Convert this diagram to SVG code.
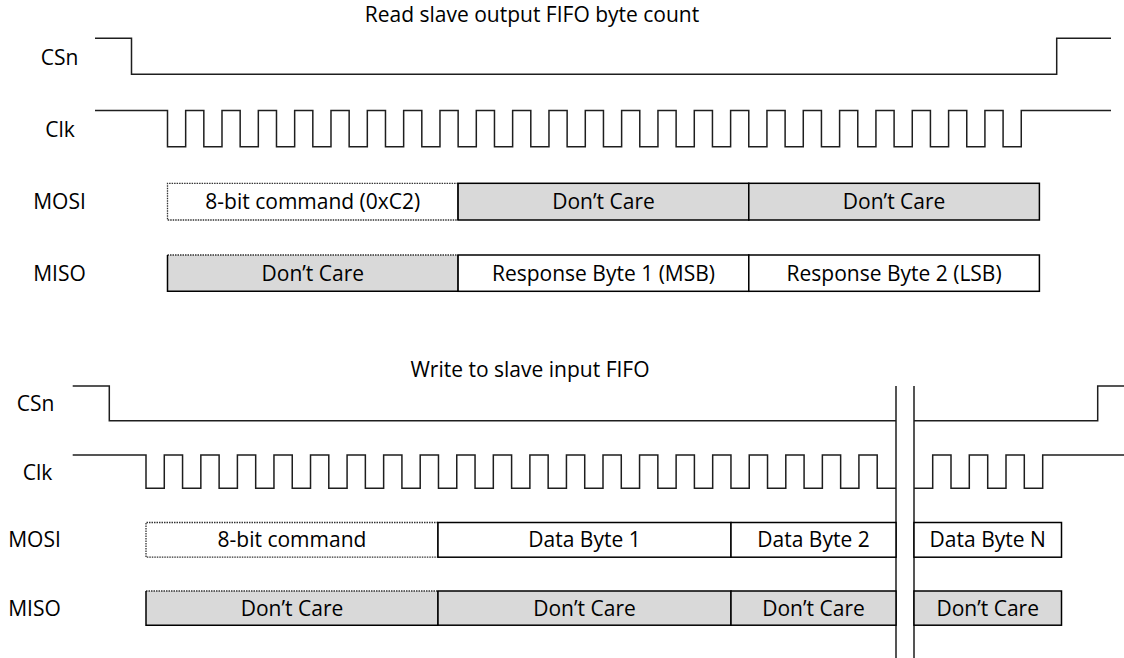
<svg xmlns="http://www.w3.org/2000/svg" width="1124" height="658" viewBox="0 0 1124 658">
<style>
.w{fill:none;stroke:#1e1e1e;stroke-width:1.5}
.s{fill:none;stroke:#000;stroke-width:1.5}
.d{fill:none;stroke:#333;stroke-width:1.3;stroke-dasharray:1.5 1}
.wh{fill:#fff}
.gr{fill:#d9d9d9}
text{font-family:"Open Sans","Liberation Sans",sans-serif;font-size:21px;fill:#000;text-anchor:middle}
</style>
<rect width="1124" height="658" fill="#fff"/>
<g id="titles">
<text x="532" y="22">Read slave output FIFO byte count</text>
<text x="530" y="377">Write to slave input FIFO</text>
</g>
<g id="labels-top">
<text x="59.5" y="65">CSn</text>
<text x="60" y="137">Clk</text>
<text x="59.5" y="209">MOSI</text>
<text x="59.5" y="281">MISO</text>
</g>
<g id="labels-bottom">
<text x="35.5" y="411">CSn</text>
<text x="37.5" y="480">Clk</text>
<text x="34.5" y="547">MOSI</text>
<text x="34.5" y="616">MISO</text>
</g>
<g id="waveforms">
<path class="w" d="M95,38.3H131.5V74.3H1056.7V38.3H1111"/>
<path class="w" d="M95,110.5H167.5v36.2h18.165v-36.2h18.165v36.2h18.165v-36.2h18.165v36.2h18.165v-36.2h18.165v36.2h18.165v-36.2h18.165v36.2h18.165v-36.2h18.165v36.2h18.165v-36.2h18.165v36.2h18.165v-36.2h18.165v36.2h18.165v-36.2h18.165v36.2h18.165v-36.2h18.165v36.2h18.165v-36.2h18.165v36.2h18.165v-36.2h18.165v36.2h18.165v-36.2h18.165v36.2h18.165v-36.2h18.165v36.2h18.165v-36.2h18.165v36.2h18.165v-36.2h18.165v36.2h18.165v-36.2h18.165v36.2h18.165v-36.2h18.165v36.2h18.165v-36.2h18.165v36.2h18.165v-36.2h18.165v36.2h18.165v-36.2h18.165v36.2h18.165v-36.2h18.165v36.2h18.165v-36.2h18.165v36.2h18.165v-36.2h18.165v36.2h18.165v-36.2H1111"/>
<path class="w" d="M72.7,386H109.3V420.7H896M914,420.7H1097.7V386H1124"/>
<path class="w" d="M72.7,455H146V488.3H164.28V455H182.56V488.3H200.84V455H219.12V488.3H237.4V455H255.68V488.3H273.96V455H292.24V488.3H310.52V455H328.8V488.3H347.08V455H365.36V488.3H383.64V455H401.92V488.3H420.2V455H438.48V488.3H456.76V455H475.04V488.3H493.32V455H511.6V488.3H529.88V455H548.16V488.3H566.44V455H584.72V488.3H603V455H621.28V488.3H639.56V455H657.84V488.3H676.12V455H694.4V488.3H712.68V455H730.96V488.3H749.24V455H767.52V488.3H785.8V455H804.08V488.3H822.36V455H840.64V488.3H858.92V455H877.2V488.3H896"/>
<path class="w" d="M914,488.3H932.7V455H951V488.3H969.3V455H987.7V488.3H1006V455H1024.3V488.3H1042.7V455H1124"/>
<path class="w" d="M896,386V658M914,386V658"/>
</g>
<g id="top-mosi-b1">
<rect class="wh" x="167.5" y="183.3" width="290.6" height="36.7"/>
<path class="d" d="M458.1,183.3H167.5V220H458.1"/>
<path class="s" d="M458.1,183.3V220"/>
<text x="312.8" y="209">8-bit command (0xC2)</text>
</g>
<g id="top-mosi-b2">
<rect class="gr s" x="458.1" y="183.3" width="290.7" height="36.7"/>
<text x="603.5" y="209">Don’t Care</text>
</g>
<g id="top-mosi-b3">
<rect class="gr s" x="748.8" y="183.3" width="290.6" height="36.7"/>
<text x="894.1" y="209">Don’t Care</text>
</g>
<g id="top-miso-b1">
<rect class="gr" x="167.5" y="255" width="290.6" height="36.3"/>
<path class="d" d="M167.5,255H458.1"/>
<path class="s" d="M167.5,255V291.3H458.1V255"/>
<text x="312.8" y="280.5">Don’t Care</text>
</g>
<g id="top-miso-b2">
<rect class="wh s" x="458.1" y="255" width="290.7" height="36.3"/>
<text x="603.5" y="280.5">Response Byte 1 (MSB)</text>
</g>
<g id="top-miso-b3">
<rect class="wh s" x="748.8" y="255" width="290.6" height="36.3"/>
<text x="894.1" y="280.5">Response Byte 2 (LSB)</text>
</g>
<g id="bot-mosi-b1">
<rect class="wh" x="146" y="522.5" width="292" height="34.7"/>
<path class="d" d="M438,522.5H146V557.2H438"/>
<path class="s" d="M438,522.5V557.2"/>
<text x="292" y="547">8-bit command</text>
</g>
<g id="bot-mosi-b2">
<rect class="wh s" x="438" y="522.5" width="293" height="34.7"/>
<text x="584.5" y="547">Data Byte 1</text>
</g>
<g id="bot-mosi-b3">
<rect class="wh s" x="731" y="522.5" width="165" height="34.7"/>
<text x="813.5" y="547">Data Byte 2</text>
</g>
<g id="bot-mosi-b4">
<rect class="wh s" x="914" y="522.5" width="147.5" height="34.7"/>
<text x="987.7" y="547">Data Byte N</text>
</g>
<g id="bot-miso-b1">
<rect class="gr" x="146" y="591" width="292" height="34.2"/>
<path class="d" d="M146,591H438"/>
<path class="s" d="M146,591V625.2H438V591"/>
<text x="292" y="615.5">Don’t Care</text>
</g>
<g id="bot-miso-b2">
<rect class="gr s" x="438" y="591" width="293" height="34.2"/>
<text x="584.5" y="615.5">Don’t Care</text>
</g>
<g id="bot-miso-b3">
<rect class="gr s" x="731" y="591" width="165" height="34.2"/>
<text x="813.5" y="615.5">Don’t Care</text>
</g>
<g id="bot-miso-b4">
<rect class="gr s" x="914" y="591" width="147.5" height="34.2"/>
<text x="987.7" y="615.5">Don’t Care</text>
</g>
</svg>
